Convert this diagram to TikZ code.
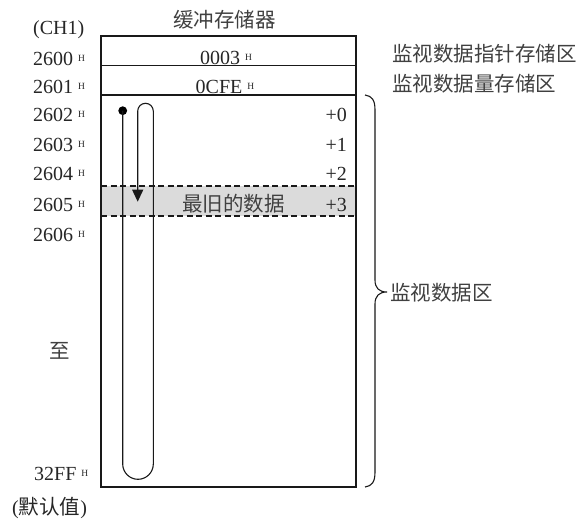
\documentclass[tikz,border=0pt]{standalone}
\usepackage{fontspec}
\setmainfont{Liberation Serif}
\newfontfamily\cjk{Noto Sans CJK SC}
\usetikzlibrary{arrows.meta}
\newcommand{\hx}{\hspace{5pt}\raisebox{3.2pt}{\fontsize{9.5}{9.5}\selectfont H}}
\begin{document}
\begin{tikzpicture}[x=1pt,y=-1pt,
  txt/.style={inner sep=0pt, text=black!85, font=\fontsize{20}{20}\selectfont},
  zh/.style={inner sep=0pt, text=black!75, font=\cjk\fontsize{20.5}{20.5}\selectfont},
  frame/.style={line width=1.2pt, draw=black!90},
  sepline/.style={line width=1.1pt, draw=black!90, dash pattern=on 6pt off 3.5pt},
  looppath/.style={line width=1.1pt, draw=black!90},
  shade/.style={fill=black!14, draw=none}]
\useasboundingbox (0,0) rectangle (580,519);

% grey band of the oldest data
\path[shade] (101,186) rectangle (356,216);

% buffer memory frame
\coordinate (tl) at (101,36);
\coordinate (br) at (356,487);
\draw[frame] (tl) rectangle (br);
\draw[frame] (101,65.3) -- (356,65.3);
\draw[frame] (101,95) -- (356,95);
\draw[sepline] (101,186) -- (356,186);
\draw[sepline] (101,216) -- (356,216);

% headings
\node[zh, anchor=base] (title) at (224.5,28) {缓冲存储器};
\node[txt, anchor=base west] (ch) at (33,35) {(CH1)};

% addresses
\node[txt, anchor=base west] (a0) at (33,65) {2600\hx};
\node[txt, anchor=base west] (a1) at (33,93) {2601\hx};
\node[txt, anchor=base west] (a2) at (33,121) {2602\hx};
\node[txt, anchor=base west] (a3) at (33,151) {2603\hx};
\node[txt, anchor=base west] (a4) at (33,180) {2604\hx};
\node[txt, anchor=base west] (a5) at (33,211) {2605\hx};
\node[txt, anchor=base west] (a6) at (33,241) {2606\hx};
\node[zh, anchor=base] (to) at (60,358) {至};
\node[txt, anchor=base west] (aend) at (34,480) {32FF\hx};
\node[txt, anchor=base west] (def) at (12,514) {({\cjk\fontsize{20.5}{20.5}\selectfont 默认值})};

% contents
\node[txt, anchor=base] (v0) at (226,64) {0003\hx};
\node[txt, anchor=base] (v1) at (225,93) {0CFE\hx};
\node[txt, anchor=base east] (o0) at (347,121) {+0};
\node[txt, anchor=base east] (o1) at (347,151) {+1};
\node[txt, anchor=base east] (o2) at (347,180) {+2};
\node[txt, anchor=base east] (o3) at (347,211) {+3};
\node[zh, anchor=base] (old) at (233.5,211) {最旧的数据};

% right labels
\node[zh, anchor=base west] (l0) at (392,61) {监视数据指针存储区};
\node[zh, anchor=base west] (l1) at (392,91) {监视数据量存储区};
\node[zh, anchor=base west] (l2) at (390,300) {监视数据区};

% brace
\draw[line width=1.1pt, black!90]
  (365,95) .. controls (372,96) and (375,100) .. (375,110)
  -- (375,280) .. controls (375,288) and (379,292) .. (387,292)
  .. controls (379,292) and (375,296) .. (375,304)
  -- (375,472) .. controls (375,482) and (372,486) .. (365,487);

% circular pointer loop
\coordinate (start) at (122.7,110.7);
\coordinate (oldest) at (137.7,201.7);
\fill[black] (start) circle[radius=4.4];
\draw[looppath, -{Triangle[width=11pt,length=12pt]}]
  (start) -- (122.7,464) arc[start angle=180, end angle=0, radius=15.3]
  -- (153.3,111.1) arc[start angle=0, end angle=-180, radius=7.8]
  -- (oldest);
\end{tikzpicture}
\end{document}
